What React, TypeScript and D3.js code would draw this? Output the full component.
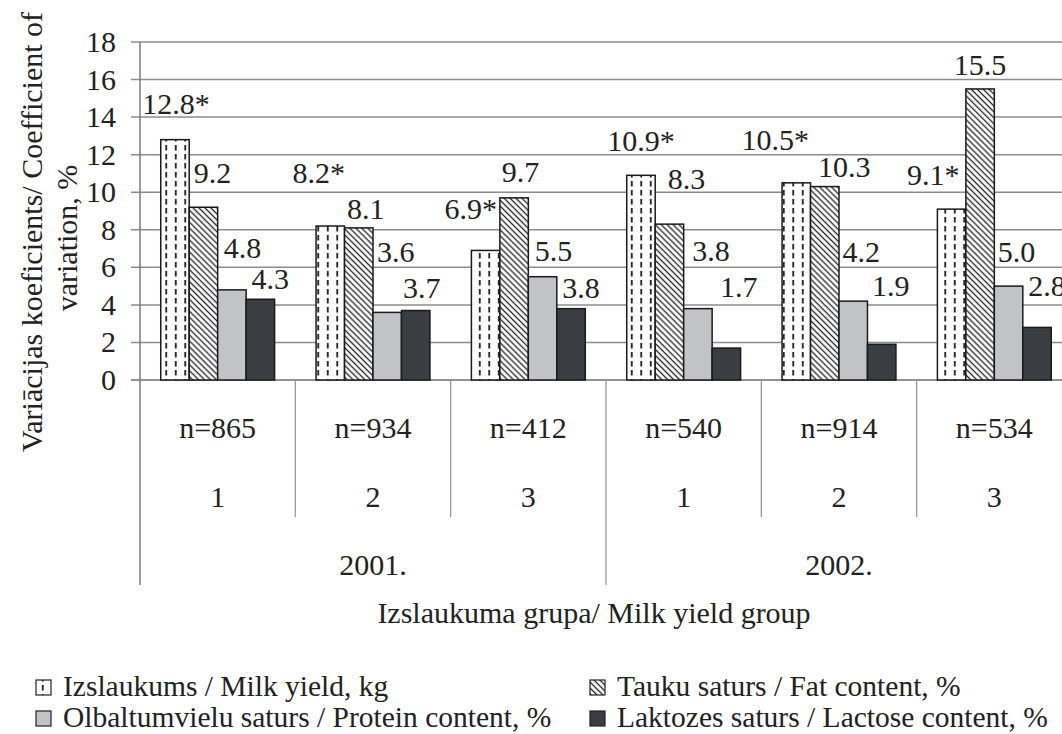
import React from "react";
import * as d3 from "d3";

const groups = ["g1", "g2", "g3", "g4", "g5", "g6"];
const nLabels = ["n=865", "n=934", "n=412", "n=540", "n=914", "n=534"];
const groupLabels = ["1", "2", "3", "1", "2", "3"];
const years = ["2001.", "2002."];
const seriesKeys = ["milk", "fat", "protein", "lactose"];
const seriesNames = [
  "Izslaukums / Milk yield, kg",
  "Tauku saturs / Fat content, %",
  "Olbaltumvielu saturs / Protein content, %",
  "Laktozes saturs / Lactose content, %",
];
const milkYield = [12.8, 8.2, 6.9, 10.9, 10.5, 9.1];
const fatContent = [9.2, 8.1, 9.7, 8.3, 10.3, 15.5];
const proteinContent = [4.8, 3.6, 5.5, 3.8, 4.2, 5.0];
const lactoseContent = [4.3, 3.7, 3.8, 1.7, 1.9, 2.8];
const starred = [true, false, false, false];
const yTicks = [0, 2, 4, 6, 8, 10, 12, 14, 16, 18];

// label nudges (dx, lift above bar top) – annotation layout
const labelNudge = [
  [[1, 26], [-11.5, 43], [-15, 31], [0, 24], [-21, 33], [-18.5, 24]],
  [[9, 24], [7, 9], [6.5, 16], [17, 35], [19.5, 10], [0, 13.6]],
  [[10.5, 32], [8.5, 50], [11, 16], [13, 48], [8, 39], [8, 24]],
  [[10, 10], [6, 13], [10, 11], [12.5, 51], [9, 48], [10, 31]],
];

const ff = `"Liberation Serif", "Times New Roman"`;

export default function App() {
  const W = 1062, H = 734;
  const left = 140, right = 1072, top = 42, bottom = 380;
  const values = [milkYield, fatContent, proteinContent, lactoseContent];
  const fills = ["url(#pMilk)", "url(#pFat)", "#c2c3c7", "#3a3d42"];

  const x0 = d3.scaleBand<string>().domain(groups).range([left, right]).padding(0);
  const bw = x0.bandwidth();
  const gap = bw * 0.1335;
  const x1 = d3.scaleBand<string>().domain(seriesKeys).range([gap, bw - gap]).padding(0);
  const y = d3.scaleLinear().domain([0, 18]).range([bottom, top]);

  const gridColor = "#8c8c8c";
  const sepColor = "#9a9a9a";
  const T = (size: number) => ({ fontFamily: ff, fontSize: size, fill: "#222" });

  return (
    <div style={{ position: "absolute", left: 0, top: 0 }}>
      <svg width={W} height={H} style={{ display: "block", background: "#fff" }}>
        <defs>
          <pattern id="pMilk" patternUnits="userSpaceOnUse" width={9.5} height={9}>
            <rect width={9.5} height={9} fill="#fff" />
            <line x1={4.75} x2={4.75} y1={1} y2={6.5} stroke="#111" strokeWidth={1.7} />
          </pattern>
          <pattern id="pFat" patternUnits="userSpaceOnUse" width={4.2} height={4.2} patternTransform="rotate(-45)">
            <rect width={4.2} height={4.2} fill="#fff" />
            <line x1={2.1} x2={2.1} y1={0} y2={4.2} stroke="#222" strokeWidth={1.3} />
          </pattern>
        </defs>

        {yTicks.map((t) => (
          <line key={"g" + t} x1={left - 9} x2={right} y1={y(t)} y2={y(t)} stroke={t === 0 ? "#6e6e6e" : gridColor} strokeWidth={1.5} />
        ))}
        <line x1={left} x2={left} y1={top} y2={585} stroke="#7a7a7a" strokeWidth={1.5} />
        {yTicks.map((t) => (
          <text key={"t" + t} x={116} y={y(t) + 10} textAnchor="end" style={T(30)}>
            {t}
          </text>
        ))}

        {groups.map((g, i) => {
          const xs = x0(g)! + bw;
          const long = (i + 1) % 3 === 0;
          return <line key={"s" + g} x1={xs} x2={xs} y1={bottom} y2={long ? 585 : 517} stroke={sepColor} strokeWidth={1.3} />;
        })}

        {seriesKeys.map((s, si) =>
          groups.map((g, gi) => {
            const v = values[si][gi];
            const bx = x0(g)! + x1(s)!;
            return (
              <rect key={s + g} x={bx} y={y(v)} width={x1.bandwidth()} height={y(0) - y(v)} fill={fills[si]} stroke="#1a1a1a" strokeWidth={1.5} />
            );
          })
        )}

        {seriesKeys.map((s, si) =>
          groups.map((g, gi) => {
            const v = values[si][gi];
            const cx = x0(g)! + x1(s)! + x1.bandwidth() / 2;
            const [dx, lift] = labelNudge[si][gi];
            return (
              <text key={"l" + s + g} x={cx + dx} y={y(v) - lift} textAnchor="middle" style={T(30)}>
                {v.toFixed(1) + (starred[si] ? "*" : "")}
              </text>
            );
          })
        )}

        {groups.map((g, i) => {
          const cx = x0(g)! + bw / 2;
          return (
            <g key={"c" + g}>
              <text x={cx} y={438} textAnchor="middle" style={T(30)}>{nLabels[i]}</text>
              <text x={cx} y={507} textAnchor="middle" style={T(30)}>{groupLabels[i]}</text>
            </g>
          );
        })}
        {years.map((yr, i) => {
          const a = x0(groups[i * 3])!;
          const b = x0(groups[i * 3 + 2])! + bw;
          return (
            <text key={yr} x={(a + b) / 2} y={575} textAnchor="middle" style={T(30)}>{yr}</text>
          );
        })}

        <text x={594} y={623} textAnchor="middle" style={T(30)}>
          Izslaukuma grupa/ Milk yield group
        </text>
        <text transform="translate(42,232) rotate(-90)" textAnchor="middle" style={T(30)}>
          Variācijas koeficients/ Coefficient of
        </text>
        <text transform="translate(77,238) rotate(-90)" textAnchor="middle" style={T(30)}>
          variation, %
        </text>

        {seriesKeys.map((s, si) => {
          const col = si % 2;
          const row = Math.floor(si / 2);
          const lx = col === 0 ? 36 : 590;
          const ly = row === 0 ? 680 : 711;
          return (
            <g key={"lg" + s}>
              <rect x={lx} y={ly} width={15} height={15} fill={fills[si]} stroke="#222" strokeWidth={1.2} />
              <text x={lx + 27} y={ly + 16} style={T(29.5)}>{seriesNames[si]}</text>
            </g>
          );
        })}
      </svg>
    </div>
  );
}
